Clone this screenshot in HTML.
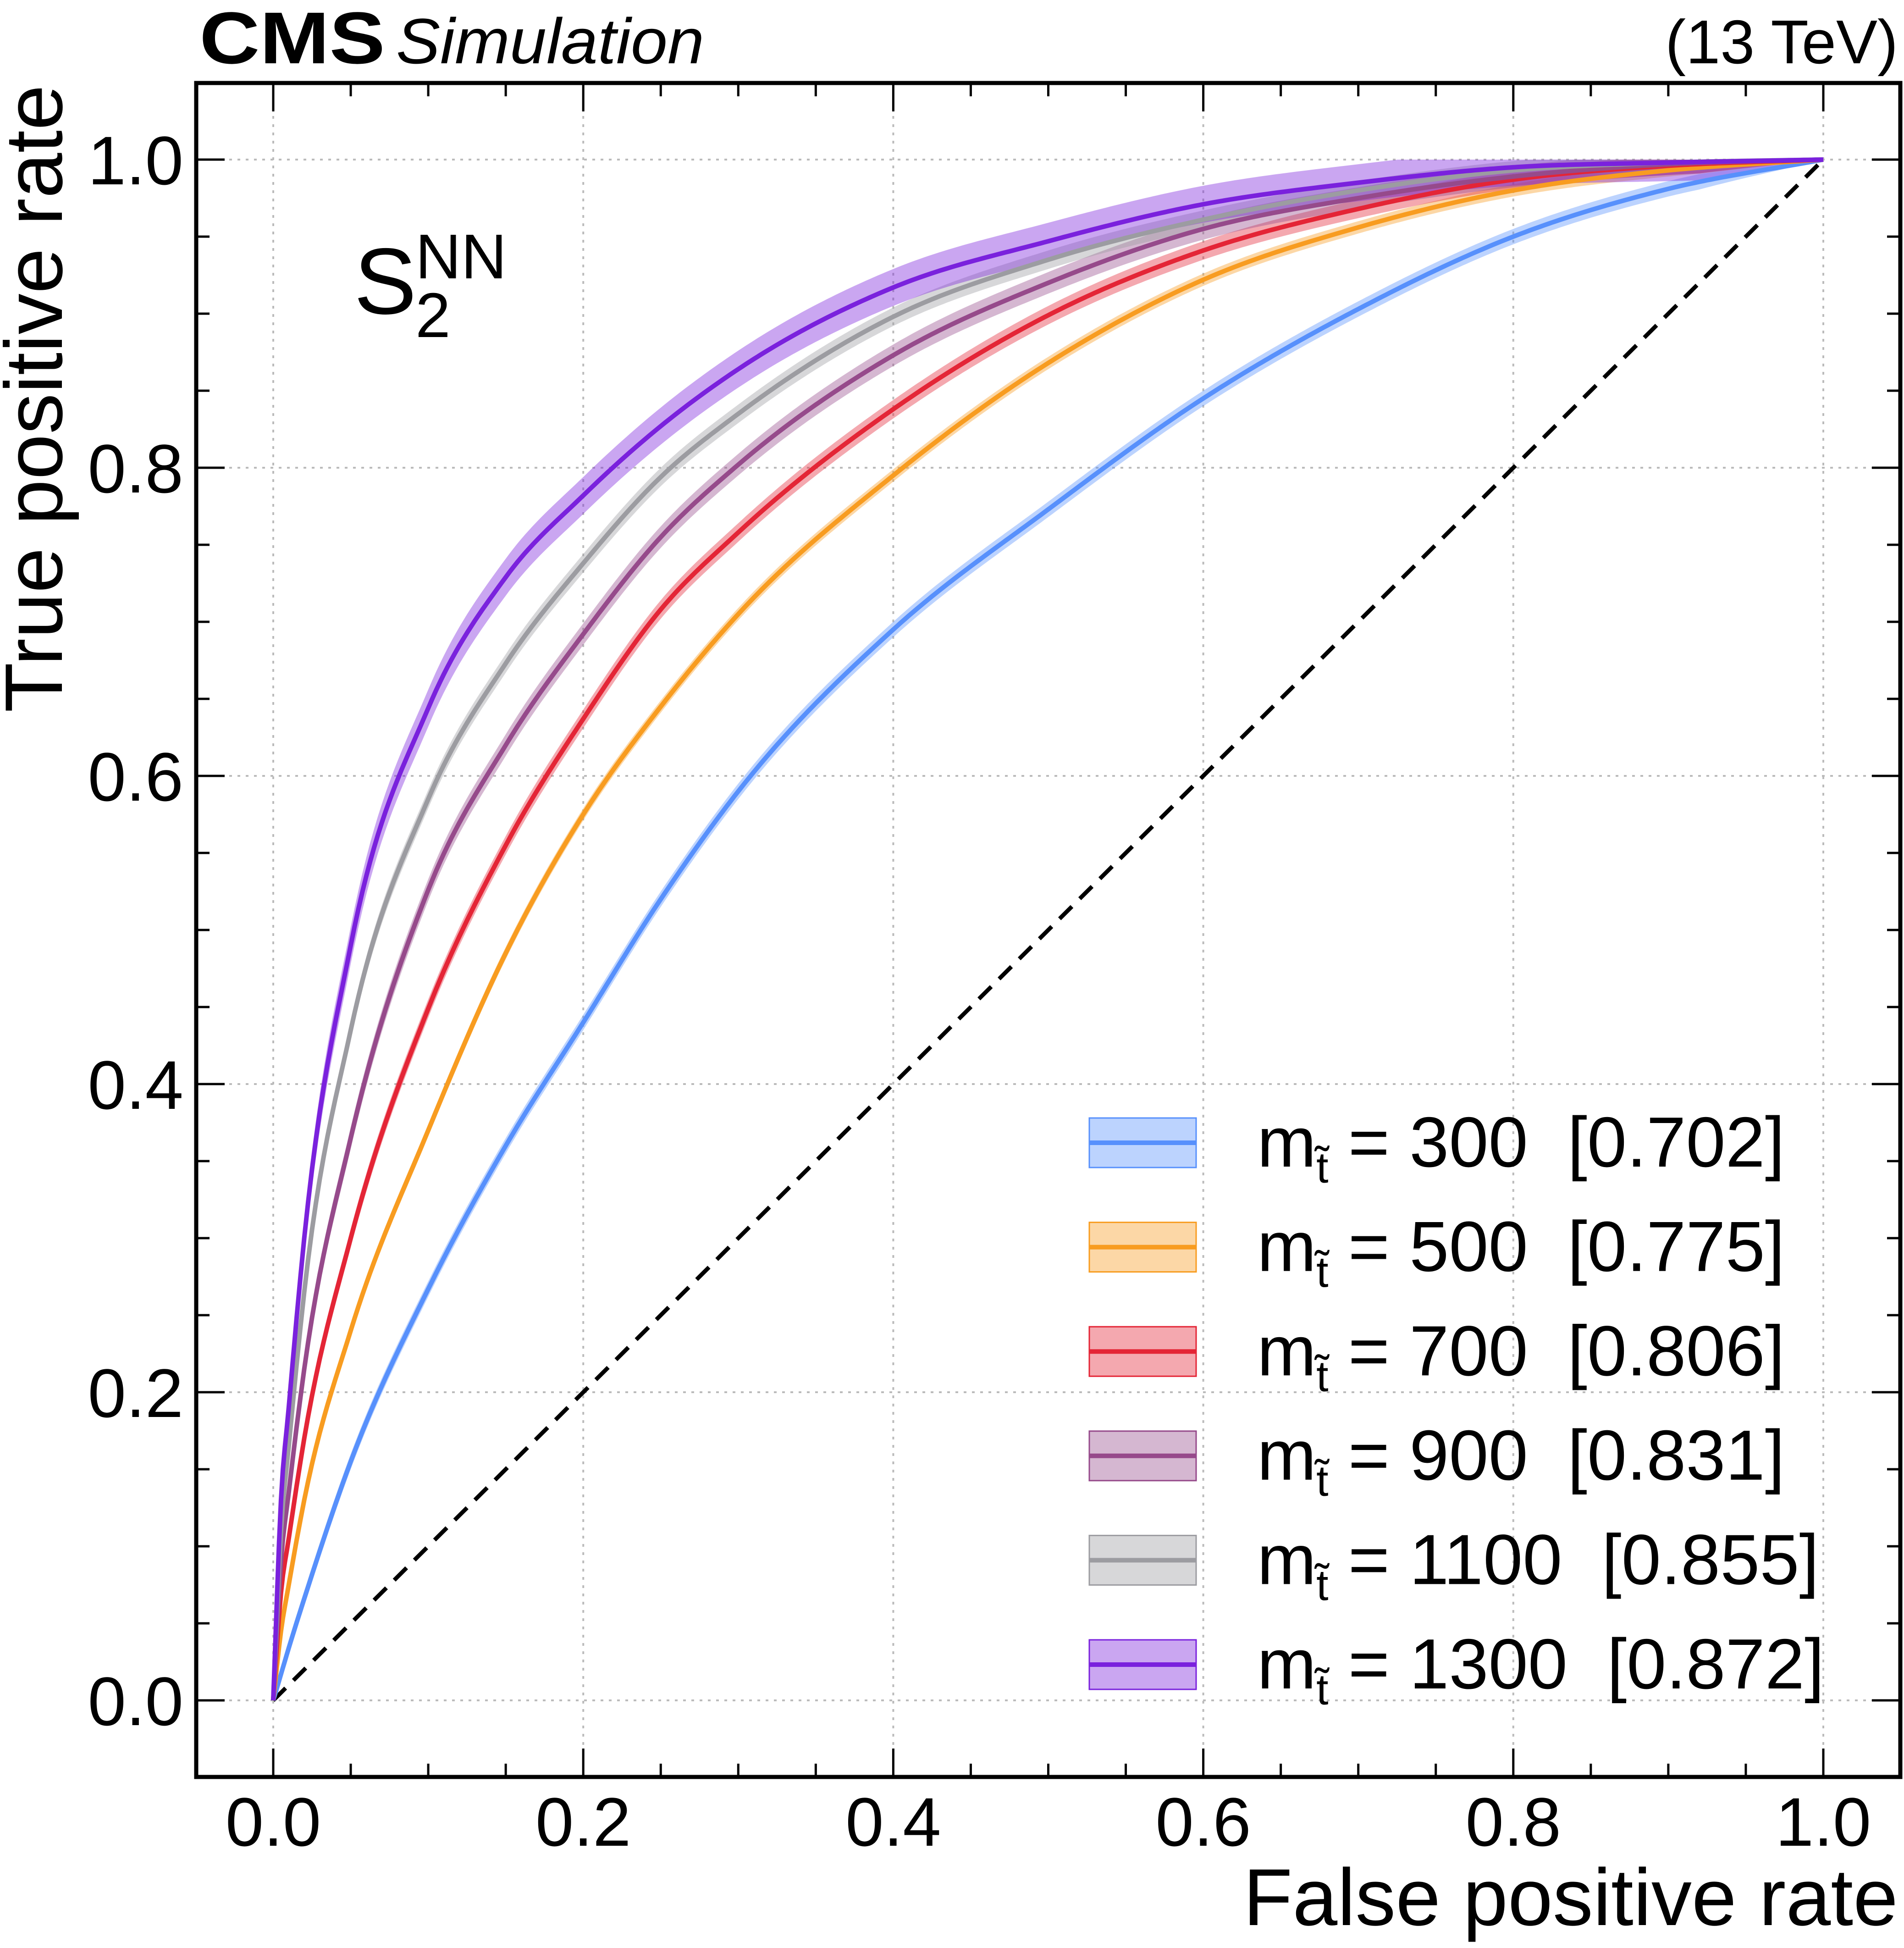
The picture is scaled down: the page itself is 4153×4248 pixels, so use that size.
<!DOCTYPE html>
<html><head><meta charset="utf-8"><style>html,body{margin:0;padding:0;background:#fff}svg{display:block}</style></head>
<body>
<svg id="chart" xmlns="http://www.w3.org/2000/svg" width="4153" height="4248" viewBox="0 0 4153 4248" font-family="Liberation Sans, sans-serif">
<rect width="4153" height="4248" fill="#fff"/>
<g id="grid"></g>
<g id="bands"></g>
<line x1="596" y1="3708" x2="3977" y2="348" stroke="#000" stroke-width="9" stroke-dasharray="38,24"/>
<g id="lines"></g>
<g id="ticks"></g>
<rect x="428" y="181" width="3717" height="3694" fill="none" stroke="#000" stroke-width="9"/>
<text x="435" y="138" font-size="160" font-weight="bold" textLength="405" lengthAdjust="spacingAndGlyphs">CMS</text>
<text x="864" y="138" font-size="140" font-style="italic" textLength="672" lengthAdjust="spacingAndGlyphs">Simulation</text>
<text x="4140" y="138" font-size="135" text-anchor="end">(13 TeV)</text>
<text x="772" y="684" font-size="205">S</text>
<text x="906" y="607" font-size="138">NN</text>
<text x="906" y="735" font-size="138">2</text>
<text x="4140" y="4198" font-size="176" text-anchor="end">False positive rate</text>
<text transform="translate(135,185) rotate(-90)" font-size="178" text-anchor="end">True positive rate</text>
<g id="ticklabels" font-size="150"></g>
<g id="legend"></g>
</svg>
<script>
const fpr = [0,0.005,0.01,0.02,0.05,0.1,0.15,0.2,0.25,0.3,0.4,0.5,0.6,0.7,0.8,0.9,1];
const tpr300  = [0,0.017,0.034,0.066,0.155,0.267,0.36,0.44,0.52,0.59,0.695,0.773,0.845,0.903,0.950,0.981,1];
const tpr500  = [0,0.045,0.075,0.13,0.24,0.37,0.485,0.575,0.645,0.705,0.795,0.868,0.922,0.956,0.98,0.993,1];
const tpr700  = [0,0.07,0.105,0.17,0.30,0.449,0.555,0.637,0.708,0.758,0.838,0.899,0.941,0.968,0.987,0.996,1];
const tpr900  = [0,0.09,0.135,0.215,0.365,0.526,0.62,0.692,0.755,0.802,0.873,0.92,0.955,0.975,0.989,0.997,1];
const tpr1100 = [0,0.11,0.165,0.265,0.435,0.585,0.673,0.738,0.794,0.835,0.898,0.935,0.961,0.980,0.993,0.998,1];
const tpr1300 = [0,0.13,0.19,0.30,0.49,0.644,0.729,0.782,0.827,0.864,0.917,0.947,0.971,0.985,0.995,0.998,1];
const bandWidths = [0.005,0.004,0.006,0.007,0.006,0.012];
const masses = ["300","500","700","900","1100","1300"];
const aucs = ["0.702","0.775","0.806","0.831","0.855","0.872"];
const colors = ["#5790fc","#f89c20","#e42536","#964a8b","#9c9ca1","#7a21dd"];
const series = [tpr300,tpr500,tpr700,tpr900,tpr1100,tpr1300];
const majorTicks = [0,0.2,0.4,0.6,0.8,1.0];
const tickLabels = ["0.0","0.2","0.4","0.6","0.8","1.0"];

const NS="http://www.w3.org/2000/svg";
const X0=596,X1=3977,Y0=3708,Y1=348;
const sx=v=>X0+(X1-X0)*v, sy=v=>Y0+(Y1-Y0)*v;
function mk(tag,attrs,parent){const e=document.createElementNS(NS,tag);for(const k in attrs)e.setAttribute(k,attrs[k]);parent.appendChild(e);return e;}
function monotone(xs,ys){
 const n=xs.length,d=[],m=new Array(n);
 for(let i=0;i<n-1;i++)d.push((ys[i+1]-ys[i])/(xs[i+1]-xs[i]));
 m[0]=d[0];m[n-1]=d[n-2];
 for(let i=1;i<n-1;i++){const h0=xs[i]-xs[i-1],h1=xs[i+1]-xs[i];m[i]=(d[i-1]*d[i]<=0)?0:(h1*d[i-1]+h0*d[i])/(h0+h1);}
 for(let i=0;i<n-1;i++){if(d[i]===0){m[i]=0;m[i+1]=0;continue;}const a=m[i]/d[i],b=m[i+1]/d[i],s=a*a+b*b;if(s>9){const t=3/Math.sqrt(s);m[i]=t*a*d[i];m[i+1]=t*b*d[i];}}
 const out=[];
 for(let i=0;i<n-1;i++){const h=xs[i+1]-xs[i];const N=Math.max(4,Math.round(h*400));for(let k=0;k<N;k++){const t=k/N,t2=t*t,t3=t2*t;const y=(2*t3-3*t2+1)*ys[i]+(t3-2*t2+t)*h*m[i]+(-2*t3+3*t2)*ys[i+1]+(t3-t2)*h*m[i+1];out.push([xs[i]+t*h,y]);}}
 out.push([xs[n-1],ys[n-1]]);return out;
}
const toPath=pts=>'M'+pts.map(p=>sx(p[0]).toFixed(1)+','+sy(p[1]).toFixed(1)).join('L');

const grid=document.getElementById('grid');
majorTicks.forEach(t=>{
 let g=mk('line',{x1:sx(t),x2:sx(t),y1:181,y2:3875,stroke:'#bbb','stroke-width':4,'stroke-dasharray':'6,12'},grid);
 
 
 g=mk('line',{x1:428,x2:4145,y1:sy(t),y2:sy(t),stroke:'#bbb','stroke-width':4,'stroke-dasharray':'6,12'},grid);
 
 
});
const ticks=document.getElementById('ticks');
for(let i=-1;i<=21;i++){
 const v=i*0.05, maj=(i%4===0), L=maj?62:29;
 const px=sx(v), py=sy(v);
 if(px>432&&px<4141){
  let t=mk('line',{x1:px,x2:px,y1:3875,y2:3875-L,stroke:'#000','stroke-width':5},ticks);
  
  
  t=mk('line',{x1:px,x2:px,y1:181,y2:181+L,stroke:'#000','stroke-width':5},ticks);
  
  
 }
 if(py>185&&py<3871){
  let t=mk('line',{x1:428,x2:428+L,y1:py,y2:py,stroke:'#000','stroke-width':5},ticks);
  
  
  t=mk('line',{x1:4145,x2:4145-L,y1:py,y2:py,stroke:'#000','stroke-width':5},ticks);
  
  
 }
}
const tl=document.getElementById('ticklabels');
majorTicks.forEach((t,i)=>{
 let e=mk('text',{x:sx(t),y:4025,'text-anchor':'middle'},tl);e.textContent=tickLabels[i];
 
 
 e=mk('text',{x:400,y:sy(t)+54,'text-anchor':'end'},tl);e.textContent=tickLabels[i];
 
 
});
const bands=document.getElementById('bands'), lines=document.getElementById('lines');
series.forEach((s,k)=>{
 const w=bandWidths[k];
 const c=monotone(fpr,s);
 const taper=x=>Math.min(1,(1-x)/0.08,x/0.01);
 const up=c.map(p=>[p[0],Math.min(1,p[1]+w*taper(p[0]))]);
 const lo=c.map(p=>[p[0],Math.max(0,p[1]-w*taper(p[0]))]).reverse();
 const d=toPath(up)+toPath(lo).replace('M','L')+'Z';
 const b=mk('path',{d:d,fill:colors[k],'fill-opacity':0.4,stroke:'none'},bands);
 
 
 const l=mk('path',{d:toPath(c),fill:'none',stroke:colors[k],'stroke-width':10,'stroke-linejoin':'round'},lines);
 
 
});
const lg=document.getElementById('legend');
masses.forEach((m,k)=>{
 const cy=2492+k*227.6;
 const g=mk('g',{},lg);
 
 
 mk('rect',{x:2376,y:cy-54,width:233,height:108,fill:colors[k],'fill-opacity':0.4,stroke:colors[k],'stroke-width':3},g);
 mk('line',{x1:2376,x2:2609,y1:cy,y2:cy,stroke:colors[k],'stroke-width':10},g);
 const t=mk('text',{x:2742,y:cy+52,'font-size':155},g);
 t.innerHTML='m<tspan font-size="95" dy="35">t̃</tspan><tspan dy="-35" xml:space="preserve"> = '+m+'  ['+aucs[k]+']</tspan>';
 t.setAttribute('xml:space','preserve');
});
</script>
</body></html>
